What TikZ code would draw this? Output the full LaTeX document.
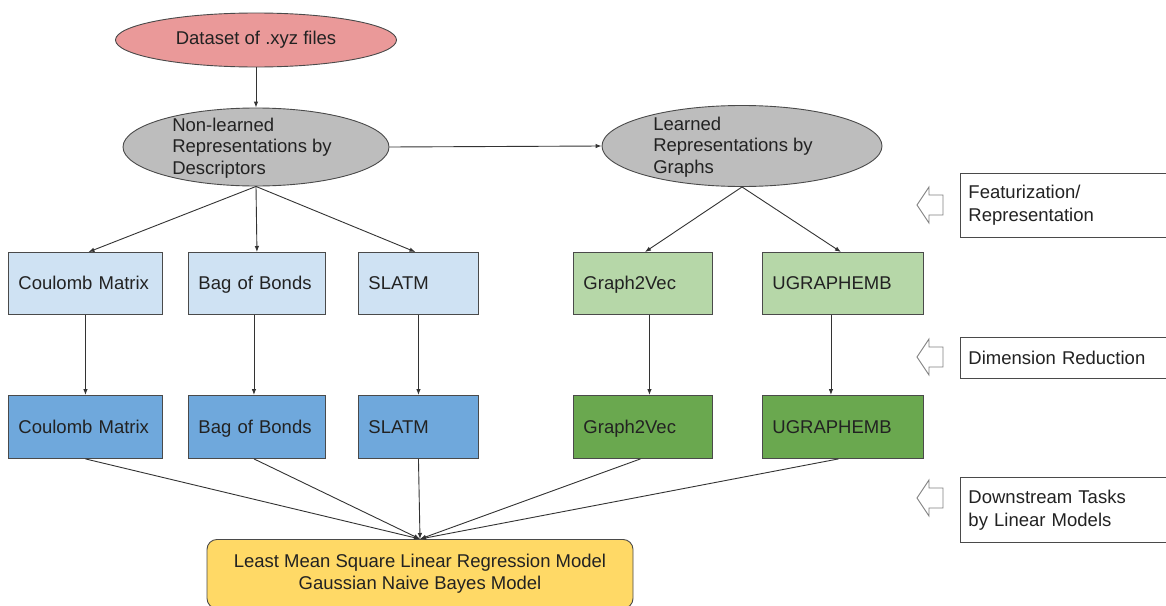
\documentclass[tikz,border=0pt]{standalone}
\usepackage{fontspec}
\setmainfont{Liberation Sans}
\usetikzlibrary{shapes.geometric,arrows.meta}

\definecolor{txt}{HTML}{222222}
\definecolor{edge}{HTML}{4A4A4A}
\definecolor{wire}{HTML}{333333}
\definecolor{hintgray}{HTML}{808080}
\definecolor{pinkfill}{HTML}{EA9999}
\definecolor{grayfill}{HTML}{BDBDBD}
\definecolor{lblue}{HTML}{CFE2F3}
\definecolor{dblue}{HTML}{6FA8DC}
\definecolor{lgreen}{HTML}{B6D7A8}
\definecolor{dgreen}{HTML}{6AA84F}
\definecolor{gold}{HTML}{FFD966}

\tikzset{
  base/.style={font=\fontsize{18.5}{21.5}\selectfont, text=txt},
  oval/.style={ellipse, draw=edge, line width=0.9pt, inner sep=0pt},
  card/.style={base, rectangle, draw=edge, line width=0.9pt, minimum height=62pt,
               inner xsep=10pt, inner ysep=0pt, text height=17pt, text depth=4pt,
               align=left, anchor=north west},
  note/.style={base, rectangle, draw=edge, line width=0.9pt, fill=white,
               inner xsep=8pt, inner ysep=0pt, align=left, anchor=north west,
               text width=200pt},
  link/.style={draw=wire, line width=0.9pt, -{Latex[length=6pt,width=4.5pt]}},
  hintline/.style={draw=hintgray, line width=0.9pt, fill=white, line join=miter},
}

\begin{document}
\begin{tikzpicture}[x=1pt, y=-1pt]
  \clip (0,0) rectangle (1166,605);
  \fill[white] (0,0) rectangle (1166,605);

  % sources and representation families
  \node[oval, fill=pinkfill, minimum width=281pt, minimum height=54pt] (ds) at (256,40) {};
  \node[base] (dst) at (ds.center) {Dataset of .xyz files};

  \node[oval, fill=grayfill, minimum width=266pt, minimum height=78pt] (nl) at (256,147) {};
  \node[base, align=left] (nlt) at ([xshift=-4pt,yshift=-1pt]nl.center) {Non-learned\\Representations by\\Descriptors};

  \node[oval, fill=grayfill, minimum width=280pt, minimum height=81pt] (ll) at (742,146) {};
  \node[base, align=left] (llt) at ([xshift=-9pt,yshift=-1pt]ll.center) {Learned\\Representations by\\Graphs};

  % raw representations
  \node[card, fill=lblue, text width=134pt] (cm1) at (8,252) {Coulomb Matrix};
  \node[card, fill=lblue, text width=117pt] (bb1) at (188,252) {Bag of Bonds};
  \node[card, fill=lblue, text width=100pt] (sl1) at (358,252) {SLATM};
  \node[card, fill=lgreen, text width=119pt] (g1) at (573,252) {Graph2Vec};
  \node[card, fill=lgreen, text width=141pt] (u1) at (762,252) {UGRAPHEMB};

  % reduced representations
  \node[card, fill=dblue, text width=134pt, minimum height=63pt] (cm2) at (8,395) {Coulomb Matrix};
  \node[card, fill=dblue, text width=117pt, minimum height=63pt] (bb2) at (188,395) {Bag of Bonds};
  \node[card, fill=dblue, text width=100pt, minimum height=63pt] (sl2) at (358,395) {SLATM};
  \node[card, fill=dgreen, text width=119pt, minimum height=63pt] (g2) at (573,395) {Graph2Vec};
  \node[card, fill=dgreen, text width=141pt, minimum height=63pt] (u2) at (762,395) {UGRAPHEMB};

  % linear models
  \node[base, rectangle, rounded corners=10pt, draw=edge, line width=0.9pt, fill=gold,
        minimum width=426pt, minimum height=69pt, align=center, anchor=north] (llm) at (420,539)
        {Least Mean Square Linear Regression Model\\Gaussian Naive Bayes Model};

  % stage labels
  \node[note, minimum height=64pt, font=\fontsize{18.5}{23}\selectfont] (st1) at (960,173) {Featurization/\\Representation};
  \node[note, minimum height=41pt] (st2) at (960,337) {Dimension Reduction};
  \node[note, minimum height=65pt, font=\fontsize{18.5}{23}\selectfont] (st3) at (960,477) {Downstream Tasks\\by Linear Models};

  % hollow arrows pointing at the stages
  \coordinate (h1) at (917,205);
  \coordinate (h2) at (917,357);
  \coordinate (h3) at (917,498);
  \foreach \h in {h1,h2,h3}
    \draw[hintline] (\h) -- ++(12,-18) -- ++(0,8) -- ++(14,0) -- ++(0,20)
                    -- ++(-14,0) -- ++(0,8) -- cycle;

  % connectors
  \draw[link] (ds.south) -- (nl.north);
  \draw[link] (nl.east) -- (ll.west);

  \draw[link] (nl.south) -- ([xshift=3pt]cm1.north);
  \draw[link] (nl.south) -- (bb1.north);
  \draw[link] (nl.south) -- ([xshift=-3pt]sl1.north);
  \draw[link] (ll.south) -- ([xshift=2pt]g1.north);
  \draw[link] (ll.south) -- ([xshift=-2pt]u1.north);

  \draw[link] (cm1.south) -- (cm2.north);
  \draw[link] ([xshift=-3pt]bb1.south) -- ([xshift=-3pt]bb2.north);
  \draw[link] (sl1.south) -- (sl2.north);
  \draw[link] ([xshift=6.5pt]g1.south) -- ([xshift=6.5pt]g2.north);
  \draw[link] ([xshift=-12pt]u1.south) -- ([xshift=-12pt]u2.north);

  \draw[link] (cm2.south) -- (llm.north);
  \draw[link] ([xshift=-3pt]bb2.south) -- (llm.north);
  \draw[link] (sl2.south) -- (llm.north);
  \draw[link] ([xshift=-2.5pt]g2.south) -- (llm.north);
  \draw[link] ([xshift=-4.5pt]u2.south) -- (llm.north);
\end{tikzpicture}
\end{document}
